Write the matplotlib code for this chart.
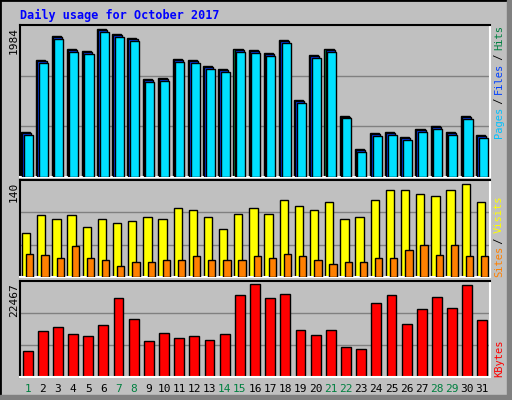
import matplotlib
matplotlib.use('Agg')
import matplotlib.pyplot as plt
from matplotlib.patches import Rectangle
import numpy as np

DAYS     = list(range(1, 32))
WEEKENDS = [1, 7, 8, 14, 15, 21, 22, 28, 29]

HITS   = [604, 1569, 1890, 1715, 1689, 1984, 1917, 1863, 1314, 1327,
          1582, 1569, 1488, 1448, 1715, 1702, 1662, 1837, 1032, 1635,
          1716, 824, 375, 590, 604, 536, 643, 684, 604, 818, 563]
FILES  = [h - 18 for h in HITS]
PAGES  = [h - 36 for h in HITS]
VISITS = [66, 93, 88, 93, 76, 87, 81, 85, 91, 87, 104, 101, 91, 72, 95, 104,
          95, 116, 108, 102, 114, 88, 90, 116, 132, 131, 125, 122, 132, 140, 114]
SITES  = [35, 34, 29, 47, 29, 25, 16, 22, 22, 25, 25, 31, 26, 25, 25, 32,
          28, 35, 31, 25, 19, 22, 22, 28, 28, 41, 48, 34, 49, 31, 31]
KBYTES = [6232, 11152, 12136, 10414, 9922, 12628, 19270, 14104, 8692, 10660,
          9430, 9922, 8938, 10414, 20008, 22467, 19270, 20254, 11398, 10168,
          11398, 7216, 6724, 18040, 20008, 12874, 16564, 19516, 16810, 22222, 13858]

BG    = '#C0C0C0'
MONO  = 'DejaVu Sans Mono'
W, H  = 512, 400

fig = plt.figure(figsize=(5.12, 4.0), dpi=100)
fig.patch.set_facecolor(BG)
# outer bevel
fig.patches.append(Rectangle((0, 0), 1, 1, transform=fig.transFigure, fill=False,
                             edgecolor='black', lw=2))
fig.patches.append(Rectangle((507 / W, 0), 5 / W, 1, transform=fig.transFigure,
                             color='#808080'))
fig.patches.append(Rectangle((0, 0), 1, 5 / H, transform=fig.transFigure,
                             color='#808080'))


def panel(y0, y1):
    ax = fig.add_axes([20 / W, 1 - y1 / H, 470 / W, (y1 - y0) / H])
    ax.set_facecolor(BG)
    ax.set_xlim(0.5, 31.5)
    for s in ['left', 'top']:
        ax.spines[s].set_color('black')
    for s in ['right', 'bottom']:
        ax.spines[s].set_color('white')
    for s in ax.spines.values():
        s.set_linewidth(1.5)
    ax.set_xticks([])
    ax.set_yticks([])
    return ax


def grid(ax, top):
    for f in (1 / 3, 2 / 3):
        ax.axhline(top * f, color='#808080', lw=1, zorder=0)
    ax.set_ylim(0, top)


x = np.array(DAYS)

ax1 = panel(25, 177)
grid(ax1, 2037)
ax1.bar(x - 0.12, HITS, 0.6, color='#008040', edgecolor='black', lw=1, zorder=2)
ax1.bar(x - 0.05, FILES, 0.6, color='#0040FF', edgecolor='black', lw=1, zorder=3)
ax1.bar(x + 0.05, PAGES, 0.6, color='#00E0FF', edgecolor='black', lw=1, zorder=4)

ax2 = panel(180, 277)
grid(ax2, 146.6)
ax2.bar(x - 0.1, VISITS, 0.55, color='#FFFF00', edgecolor='black', lw=1, zorder=2)
ax2.bar(x + 0.15, SITES, 0.48, color='#FF8000', edgecolor='black', lw=1, zorder=3)

ax3 = panel(281, 377)
grid(ax3, 23287)
ax3.bar(x, KBYTES, 0.65, color='#FF0000', edgecolor='black', lw=1, zorder=2)

fig.text(20 / W, 1 - 15 / H, 'Daily usage for October 2017', color='#0000FF',
         family=MONO, fontsize=8.5, fontweight='bold', va='center')

for top, lab in [(27, str(max(HITS))), (182, str(max(VISITS))), (283, str(max(KBYTES)))]:
    fig.text(14 / W, 1 - top / H, lab, rotation=90, family=MONO, fontsize=8,
             ha='center', va='top')

for d in DAYS:
    fig.text(ax1.transData.transform((d, 0))[0] / W, 1 - 389 / H, str(d),
             color='#008040' if d in WEEKENDS else 'black',
             family=MONO, fontsize=8, ha='center', va='center')

renderer = fig.canvas.get_renderer()


def side(parts, y_bottom):
    y = y_bottom
    for txt, col in parts:
        t = fig.text(499 / W, 1 - y / H, txt, rotation=90, color=col, family=MONO,
                     fontsize=7.5, ha='center', va='bottom')
        # advance by the monospace width of the text (spaces included)
        y -= len(txt) * 5.5


side([('Pages', '#00C0FF'), (' / ', 'black'), ('Files', '#0040FF'),
      (' / ', 'black'), ('Hits', '#008040')], 138)
side([('Sites', '#FF8000'), (' / ', 'black'), ('Visits', '#FFFF00')], 277)
side([('KBytes', '#FF0000')], 377)

fig.savefig('out.png', dpi=100, facecolor=BG)
